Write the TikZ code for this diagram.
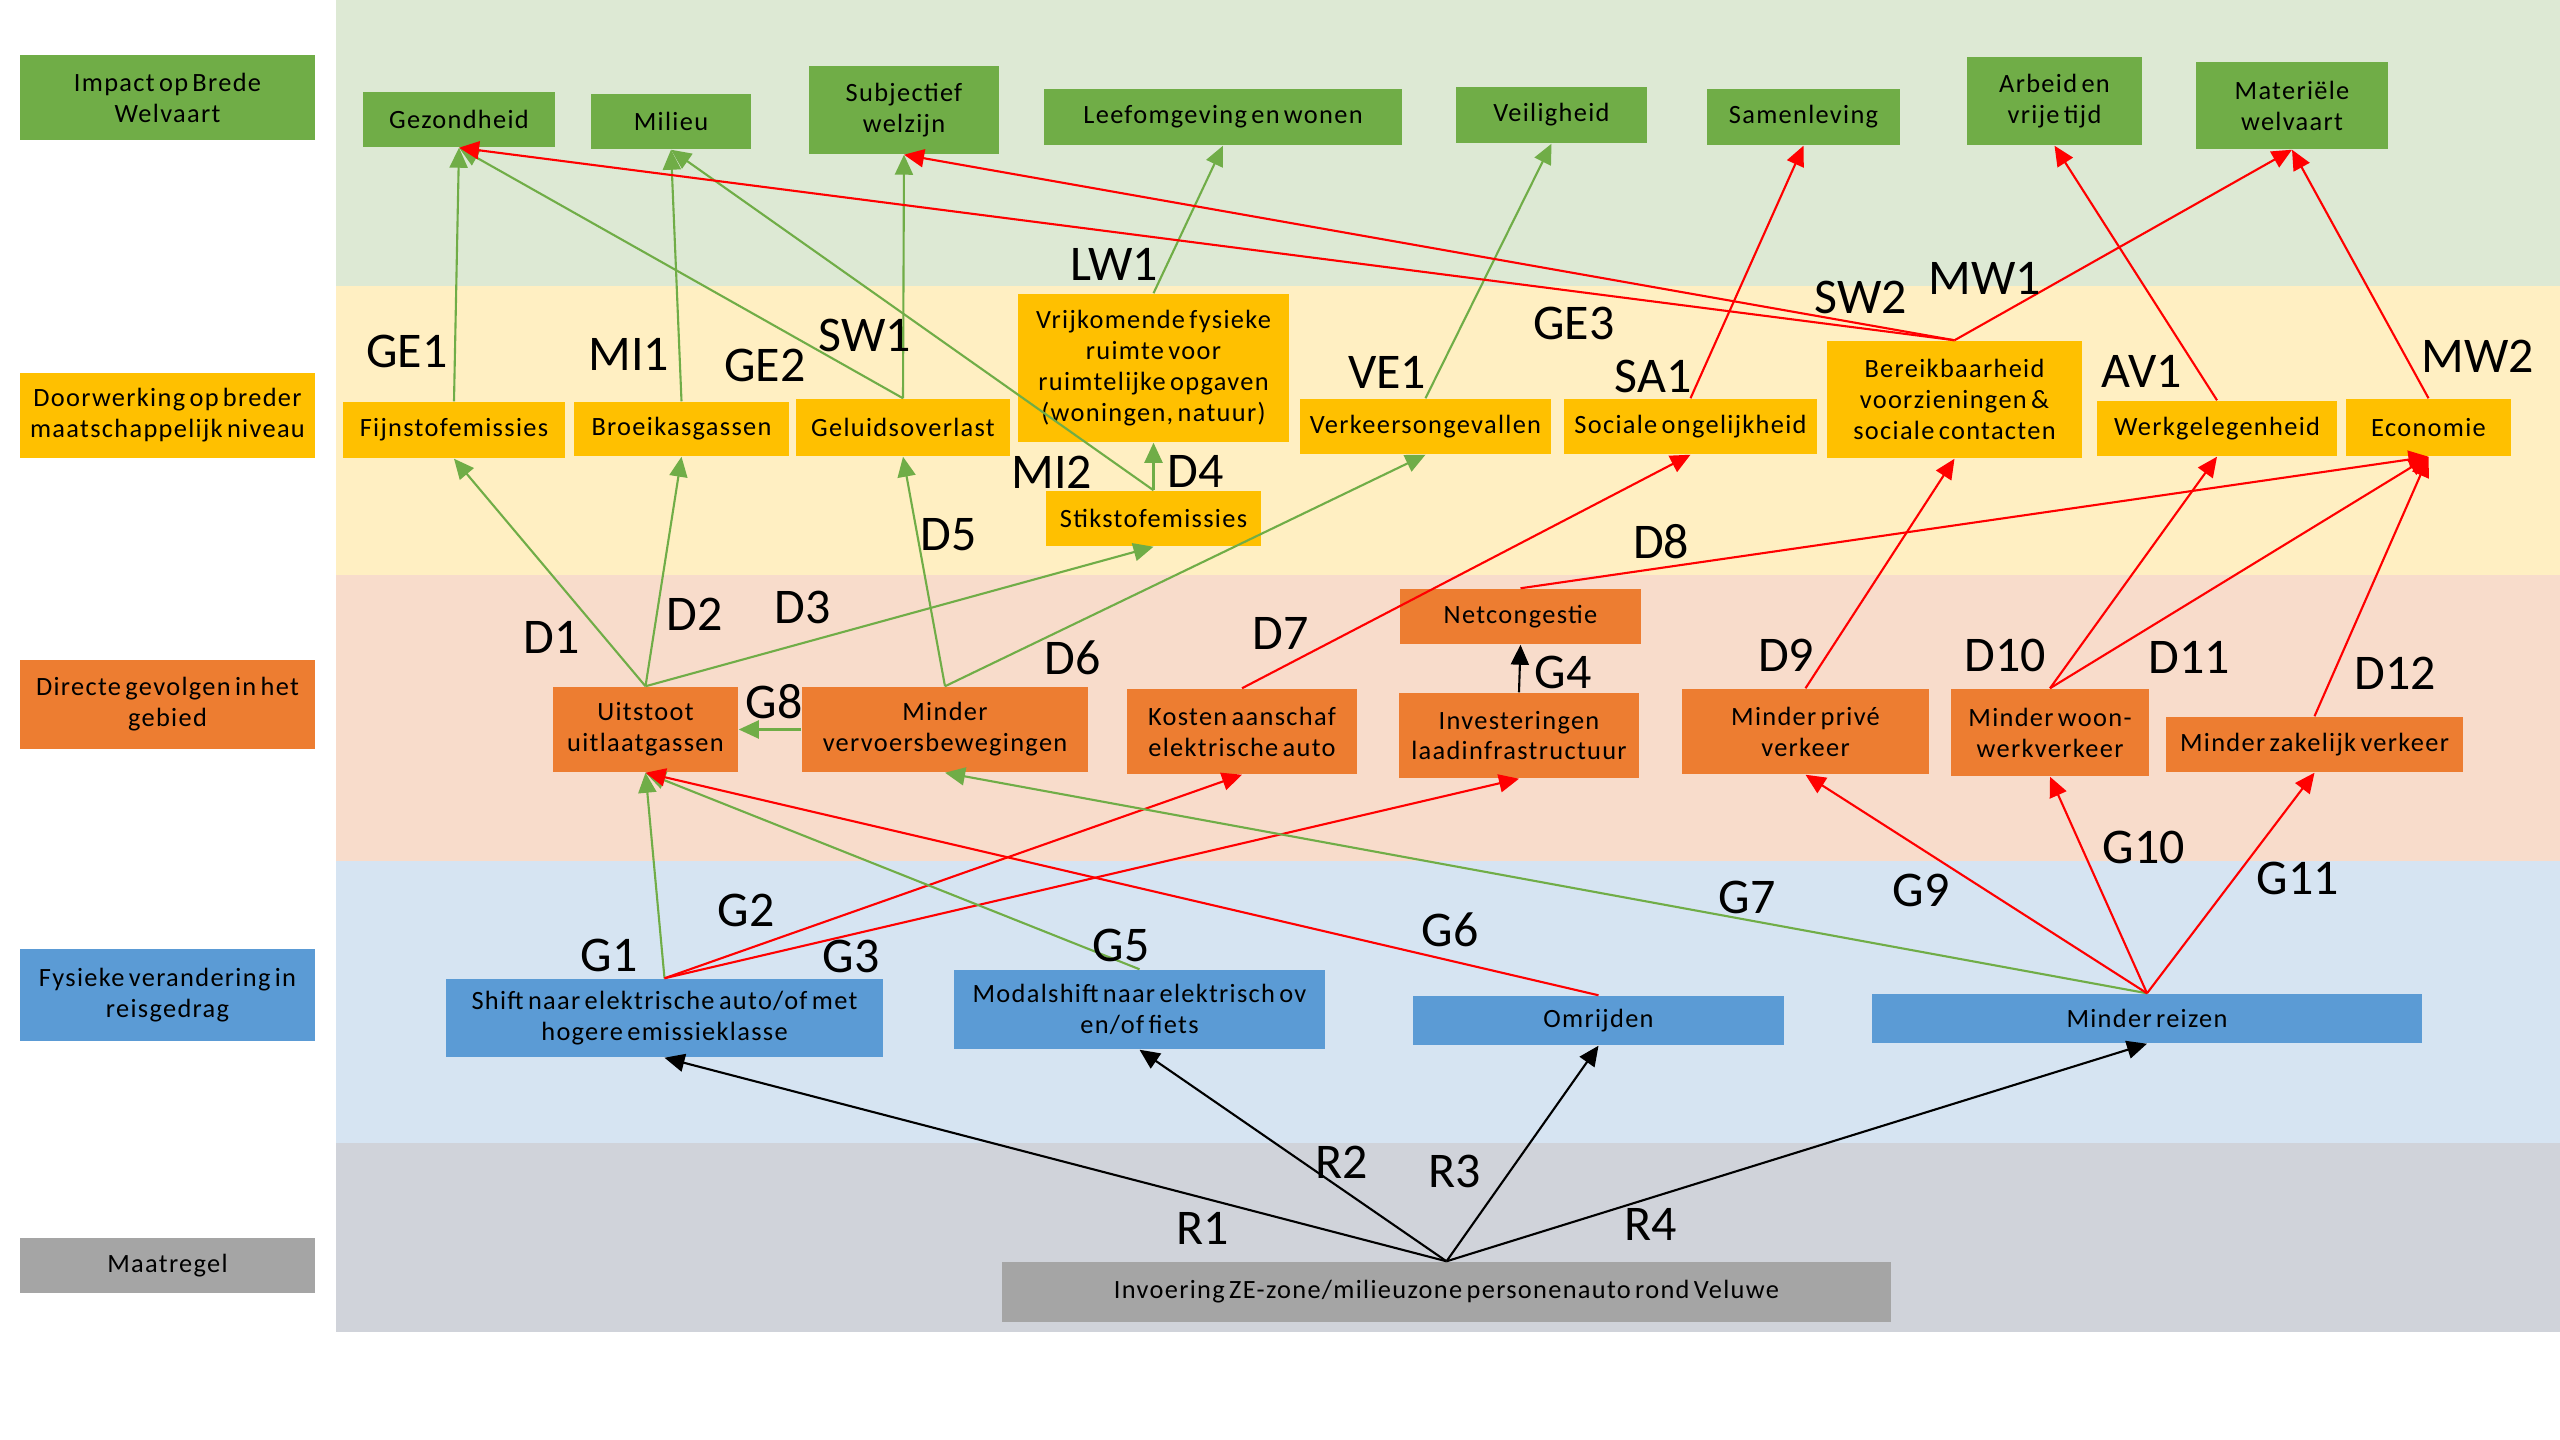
\documentclass[tikz,border=0pt]{standalone}
\usepackage{fontspec}
\setmainfont{Carlito}
% slightly tracked face for the text inside the boxes
\newfontfamily\boxfont[LetterSpace=5,WordSpace=0.6]{Carlito}
\usetikzlibrary{arrows.meta}

% band fills
\definecolor{bandG}{HTML}{DDE9D4}
\definecolor{bandY}{HTML}{FFEFC2}
\definecolor{bandO}{HTML}{F8DCCB}
\definecolor{bandB}{HTML}{D6E4F2}
\definecolor{bandK}{HTML}{D0D3DA}
% node fills
\definecolor{nodeG}{HTML}{70AD47}
\definecolor{nodeY}{HTML}{FFC000}
\definecolor{nodeO}{HTML}{ED7D31}
\definecolor{nodeB}{HTML}{5B9BD5}
\definecolor{nodeK}{HTML}{A5A5A5}
% connector colours
\definecolor{lineG}{HTML}{70AD47}
\definecolor{lineR}{HTML}{FF0000}

\begin{document}
\begin{tikzpicture}[x=0.01cm,y=-0.01cm,
  box/.style={inner sep=0pt, align=center, text=black,
    font=\boxfont\fontsize{7.5}{8.8}\selectfont},
  gbox/.style={box, fill=nodeG},
  ybox/.style={box, fill=nodeY},
  obox/.style={box, fill=nodeO},
  bbox/.style={box, fill=nodeB},
  kbox/.style={box, fill=nodeK},
  lbl/.style={inner sep=0pt, text=black, font=\fontsize{14.2}{16}\selectfont},
  link/.style={line width=0.6pt, -{Triangle[length=0.2cm,width=0.18cm]}},
  plink/.style={link, draw=lineG},
  nlink/.style={link, draw=lineR},
  alink/.style={link, draw=black}]

\useasboundingbox (0,0) rectangle (2560,1440);
\fill[white] (0,0) rectangle (2560,1440);

% horizontal bands
\fill[bandG] (336,0) rectangle (2560,286);
\fill[bandY] (336,286) rectangle (2560,575);
\fill[bandO] (336,575) rectangle (2560,861);
\fill[bandB] (336,861) rectangle (2560,1143);
\fill[bandK] (336,1143) rectangle (2560,1332);

% row headers
\node[gbox, minimum width=2.95cm, minimum height=0.85cm] (hImpact) at (167.5,97.5) {Impact op Brede\\Welvaart};
\node[ybox, minimum width=2.95cm, minimum height=0.85cm] (hDoor) at (167.5,415.5) {Doorwerking op breder\\maatschappelijk niveau};
\node[obox, minimum width=2.95cm, minimum height=0.89cm] (hDirect) at (167.5,704.5) {Directe gevolgen in het\\gebied};
\node[bbox, minimum width=2.95cm, minimum height=0.92cm] (hFys) at (167.5,995) {Fysieke verandering in\\reisgedrag};
\node[kbox, minimum width=2.95cm, minimum height=0.55cm] (hMaat) at (167.5,1265.5) {Maatregel};

% broad welfare themes
\node[gbox, minimum width=1.92cm, minimum height=0.55cm] (gez) at (459,119.5) {Gezondheid};
\node[gbox, minimum width=1.60cm, minimum height=0.55cm] (mil) at (671,121.5) {Milieu};
\node[gbox, minimum width=1.90cm, minimum height=0.88cm] (sub) at (904,110) {Subjectief\\welzijn};
\node[gbox, minimum width=3.58cm, minimum height=0.56cm] (leef) at (1223,117) {Leefomgeving en wonen};
\node[gbox, minimum width=1.91cm, minimum height=0.56cm] (veil) at (1551.5,115) {Veiligheid};
\node[gbox, minimum width=1.93cm, minimum height=0.56cm] (samen) at (1803.5,117) {Samenleving};
\node[gbox, minimum width=1.75cm, minimum height=0.88cm] (arb) at (2054.5,101) {Arbeid en\\vrije tijd};
\node[gbox, minimum width=1.92cm, minimum height=0.87cm] (mat) at (2292,105.5) {Materiële\\welvaart};

% societal effects
\node[ybox, minimum width=2.22cm, minimum height=0.56cm] (fijn) at (454,430) {Fijnstofemissies};
\node[ybox, minimum width=2.15cm, minimum height=0.54cm] (broei) at (681.5,429) {Broeikasgassen};
\node[ybox, minimum width=2.14cm, minimum height=0.57cm] (geluid) at (903,427.5) {Geluidsoverlast};
\node[ybox, minimum width=2.71cm, minimum height=1.48cm] (vrij) at (1153.5,368) {Vrijkomende fysieke\\ruimte voor\\ruimtelijke opgaven\\(woningen, natuur)};
\node[ybox, minimum width=2.15cm, minimum height=0.55cm] (stik) at (1153.5,518.5) {Stikstofemissies};
\node[ybox, minimum width=2.51cm, minimum height=0.55cm] (verk) at (1425.5,426.5) {Verkeersongevallen};
\node[ybox, minimum width=2.53cm, minimum height=0.55cm] (soc) at (1690.5,426.5) {Sociale ongelijkheid};
\node[ybox, minimum width=2.55cm, minimum height=1.17cm] (bereik) at (1954.5,399.5) {Bereikbaarheid\\voorzieningen \&\\sociale contacten};
\node[ybox, minimum width=2.40cm, minimum height=0.55cm] (werk) at (2217,428.5) {Werkgelegenheid};
\node[ybox, minimum width=1.65cm, minimum height=0.57cm] (eco) at (2428.5,427.5) {Economie};

% direct consequences in the area
\node[obox, minimum width=1.85cm, minimum height=0.85cm] (uit) at (645.5,729.5) {Uitstoot\\uitlaatgassen};
\node[obox, minimum width=2.86cm, minimum height=0.85cm] (mv) at (945,729.5) {Minder\\vervoersbewegingen};
\node[obox, minimum width=2.30cm, minimum height=0.85cm] (kost) at (1242,731.5) {Kosten aanschaf\\elektrische auto};
\node[obox, minimum width=2.41cm, minimum height=0.55cm] (net) at (1520.5,616.5) {Netcongestie};
\node[obox, minimum width=2.40cm, minimum height=0.85cm] (inv) at (1519,735.5) {Investeringen\\laadinfrastructuur};
\node[obox, minimum width=2.47cm, minimum height=0.85cm] (prive) at (1805.5,731.5) {Minder privé\\verkeer};
\node[obox, minimum width=1.98cm, minimum height=0.87cm] (woon) at (2050,732.5) {Minder woon-\\werkverkeer};
\node[obox, minimum width=2.97cm, minimum height=0.55cm] (zak) at (2314.5,744.5) {Minder zakelijk verkeer};

% changes in travel behaviour
\node[bbox, minimum width=4.37cm, minimum height=0.78cm] (shift) at (664.5,1018) {Shift naar elektrische auto/of met\\hogere emissieklasse};
\node[bbox, minimum width=3.71cm, minimum height=0.79cm] (modal) at (1139.5,1009.5) {Modalshift naar elektrisch ov\\en/of fiets};
\node[bbox, minimum width=3.71cm, minimum height=0.49cm] (omr) at (1598.5,1020.5) {Omrijden};
\node[bbox, minimum width=5.50cm, minimum height=0.49cm] (minder) at (2147,1018.5) {Minder reizen};

% measure
\node[kbox, minimum width=8.89cm, minimum height=0.60cm] (invoer) at (1446.5,1292) {Invoering ZE-zone/milieuzone personenauto rond Veluwe};

% connectors: measure to behaviour
\draw[alink] (invoer.north) -- (shift.south);
\draw[alink] (invoer.north) -- (modal.south);
\draw[alink] (invoer.north) -- (omr.south);
\draw[alink] (invoer.north) -- (minder.south);

% connectors: behaviour to direct consequences
\draw[plink] (shift.north) -- (uit.south);
\draw[nlink] (shift.north) -- (kost.south);
\draw[nlink] (shift.north) -- (inv.south);
\draw[plink] (modal.north) -- (uit.south);
\draw[nlink] (omr.north) -- (uit.south);
\draw[plink] (minder.north) -- (mv.south);
\draw[nlink] (minder.north) -- (prive.south);
\draw[nlink] (minder.north) -- (woon.south);
\draw[nlink] (minder.north) -- (zak.south);
\draw[plink] (mv.west) -- (uit.east);
\draw[alink] (inv.north) -- (net.south);

% connectors: direct consequences to societal effects
\draw[plink] (uit.north) -- (fijn.south);
\draw[plink] (uit.north) -- (broei.south);
\draw[plink] (uit.north) -- (stik.south);
\draw[plink] (stik.north) -- (vrij.south);
\draw[plink] (mv.north) -- (geluid.south);
\draw[plink] (mv.north) -- (verk.south);
\draw[nlink] (kost.north) -- (soc.south);
\draw[nlink] (net.north) -- (eco.south);
\draw[nlink] (prive.north) -- (bereik.south);
\draw[nlink] (woon.north) -- (werk.south);
\draw[nlink] (woon.north) -- (eco.south);
\draw[nlink] (zak.north) -- (eco.south);

% connectors: societal effects to welfare themes
\draw[plink] (fijn.north) -- (gez.south);
\draw[plink] (broei.north) -- (mil.south);
\draw[plink] (geluid.north) -- (gez.south);
\draw[plink] (geluid.north) -- (sub.south);
\draw[plink] (stik.north) -- (mil.south);
\draw[plink] (vrij.north) -- (leef.south);
\draw[plink] (verk.north) -- (veil.south);
\draw[nlink] (soc.north) -- (samen.south);
\draw[nlink] (bereik.north) -- (gez.south);
\draw[nlink] (bereik.north) -- (sub.south);
\draw[nlink] (bereik.north) -- (mat.south);
\draw[nlink] (werk.north) -- (arb.south);
\draw[nlink] (eco.north) -- (mat.south);

% connector codes
\node[lbl] (tGE1) at (407,351) {GE1};
\node[lbl] (tMI1) at (629,354) {MI1};
\node[lbl] (tGE2) at (765,365) {GE2};
\node[lbl] (tSW1) at (865,335) {SW1};
\node[lbl] (tLW1) at (1114,264) {LW1};
\node[lbl] (tMI2) at (1052,472) {MI2};
\node[lbl] (tD4) at (1196,471) {D4};
\node[lbl] (tD5) at (949,535) {D5};
\node[lbl] (tVE1) at (1387,372) {VE1};
\node[lbl] (tGE3) at (1574,323) {GE3};
\node[lbl] (tSA1) at (1653,376) {SA1};
\node[lbl] (tD8) at (1661,542) {D8};
\node[lbl] (tSW2) at (1861,297) {SW2};
\node[lbl] (tMW1) at (1985,278) {MW1};
\node[lbl] (tAV1) at (2142,371) {AV1};
\node[lbl] (tMW2) at (2478,356) {MW2};
\node[lbl] (tD1) at (552,637) {D1};
\node[lbl] (tD2) at (695,614) {D2};
\node[lbl] (tD3) at (803,607) {D3};
\node[lbl] (tG8) at (774,702) {G8};
\node[lbl] (tD6) at (1073,658) {D6};
\node[lbl] (tD7) at (1281,633) {D7};
\node[lbl] (tG4) at (1563,672) {G4};
\node[lbl] (tD9) at (1786,655) {D9};
\node[lbl] (tD10) at (2005,655) {D10};
\node[lbl] (tD11) at (2189,657) {D11};
\node[lbl] (tD12) at (2395,673) {D12};
\node[lbl] (tG1) at (609,955) {G1};
\node[lbl] (tG2) at (746,910) {G2};
\node[lbl] (tG3) at (851,956) {G3};
\node[lbl] (tG5) at (1121,945) {G5};
\node[lbl] (tG6) at (1450,930) {G6};
\node[lbl] (tG7) at (1747,897) {G7};
\node[lbl] (tG9) at (1921,890) {G9};
\node[lbl] (tG10) at (2144,847) {G10};
\node[lbl] (tG11) at (2298,878) {G11};
\node[lbl] (tR1) at (1203,1228) {R1};
\node[lbl] (tR2) at (1342,1162) {R2};
\node[lbl] (tR3) at (1455,1171) {R3};
\node[lbl] (tR4) at (1651,1224) {R4};

\end{tikzpicture}
\end{document}
